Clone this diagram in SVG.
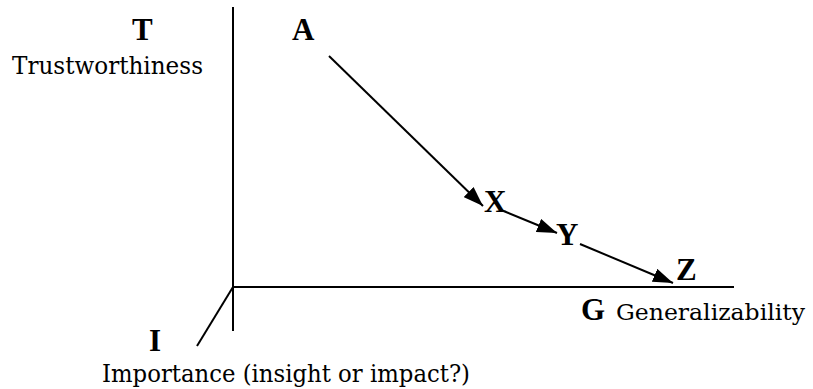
<svg xmlns="http://www.w3.org/2000/svg" width="813" height="389" viewBox="0 0 813 389">
  <style>
    .lbl { font-family: 'Liberation Serif', serif; font-size: 29px; fill: #000; }
    .reg { font-family: 'DejaVu Serif', serif; font-size: 25px; }
    .b { font-weight: bold; font-size: 31px; }
    .ax { stroke: #000; stroke-width: 2; fill: none; }
    .arr { stroke: #000; stroke-width: 2; fill: none; marker-end: url(#ah); }
  </style>
  <defs>
    <marker id="ah" markerUnits="userSpaceOnUse" markerWidth="20" markerHeight="14" refX="20" refY="7" orient="auto">
      <path d="M0,0 L20,7 L0,14 z" fill="#000"/>
    </marker>
  </defs>
  <rect width="813" height="389" fill="#fff"/>
  <g id="axes">
    <line class="ax" x1="233" y1="7" x2="233" y2="331"/>
    <line class="ax" x1="232" y1="287" x2="734" y2="287"/>
    <line class="ax" x1="233" y1="287" x2="197" y2="346"/>
  </g>
  <g id="axis-T">
    <text class="lbl b" x="132" y="40">T</text>
    <text class="lbl reg" x="12" y="74" textLength="191" lengthAdjust="spacingAndGlyphs">Trustworthiness</text>
  </g>
  <g id="axis-G">
    <text class="lbl b" x="581" y="320">G</text>
    <text class="lbl reg" x="616" y="320" style="font-size:22.5px" textLength="189" lengthAdjust="spacingAndGlyphs">Generalizability</text>
  </g>
  <g id="axis-I">
    <text class="lbl b" x="149" y="351">I</text>
    <text class="lbl reg" x="102" y="382" textLength="368" lengthAdjust="spacingAndGlyphs">Importance (insight or impact?)</text>
  </g>
  <g id="node-A"><text class="lbl b" x="292" y="40">A</text></g>
  <g id="node-X"><text class="lbl b" x="484" y="212">X</text></g>
  <g id="node-Y"><text class="lbl b" x="556" y="245">Y</text></g>
  <g id="node-Z"><text class="lbl b" x="676" y="280">Z</text></g>
  <g id="connectors">
    <line class="arr" x1="329" y1="56" x2="483" y2="206"/>
    <line class="arr" x1="501" y1="210" x2="557" y2="233"/>
    <line class="arr" x1="580" y1="244" x2="673" y2="283"/>
  </g>
</svg>
